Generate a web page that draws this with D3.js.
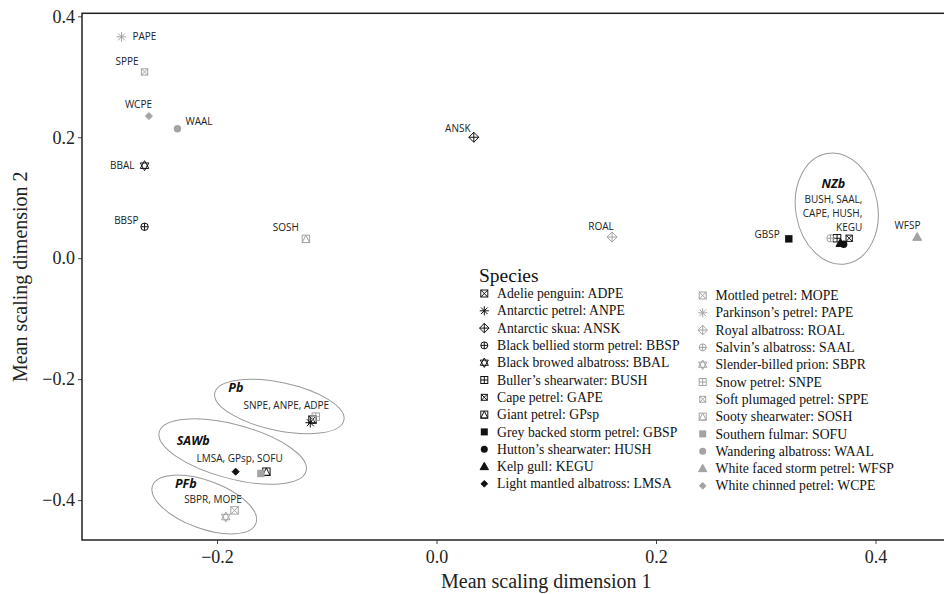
<!DOCTYPE html>
<html lang="en">
<head>
  <meta charset="UTF-8">
  <title>Mean scaling of seabird species</title>
  <script src="https://d3js.org/d3.v7.min.js"></script>
  <style>
    body { margin: 0; background: #fff; }
    svg { display: block; }
    .tick text { font-family: "Liberation Serif", serif; font-size: 18px; fill: #222; }
    .tick line { stroke: #444; }
    .axis-title { font-family: "Liberation Serif", serif; font-size: 20px; fill: #222; }
    .pt-label { font-family: "Open Sans", sans-serif; font-size: 10px; fill: #222; }
    .grp-name { font-family: "Open Sans", sans-serif; font-size: 12.5px; font-weight: bold; font-style: italic; fill: #111; }
    .grp-members { font-family: "Open Sans", sans-serif; font-size: 10px; fill: #222; }
    .legend-title { font-family: "Liberation Serif", serif; font-size: 19.5px; fill: #111; }
    .legend-text { font-family: "Liberation Serif", serif; font-size: 13.7px; fill: #111; }
  </style>
</head>
<body>
  <svg width="944" height="594"></svg>
  <script>
    // species, in legend order
    const codes = ["ADPE","ANPE","ANSK","BBSP","BBAL","BUSH","CAPE","GPsp","GBSP","HUSH","KEGU","LMSA",
                   "MOPE","PAPE","ROAL","SAAL","SBPR","SNPE","SPPE","SOSH","SOFU","WAAL","WFSP","WCPE"];
    const legendLabels = [
      "Adelie penguin: ADPE", "Antarctic petrel: ANPE", "Antarctic skua: ANSK",
      "Black bellied storm petrel: BBSP", "Black browed albatross: BBAL", "Buller\u2019s shearwater: BUSH",
      "Cape petrel: GAPE", "Giant petrel: GPsp", "Grey backed storm petrel: GBSP",
      "Hutton\u2019s shearwater: HUSH", "Kelp gull: KEGU", "Light mantled albatross: LMSA",
      "Mottled petrel: MOPE", "Parkinson\u2019s petrel: PAPE", "Royal albatross: ROAL",
      "Salvin\u2019s albatross: SAAL", "Slender-billed prion: SBPR", "Snow petrel: SNPE",
      "Soft plumaged petrel: SPPE", "Sooty shearwater: SOSH", "Southern fulmar: SOFU",
      "Wandering albatross: WAAL", "White faced storm petrel: WFSP", "White chinned petrel: WCPE"
    ];
    const dim1 = [-0.113,-0.115, 0.034,-0.266,-0.266, 0.365, 0.376,-0.155, 0.321, 0.371, 0.368,-0.183,
                  -0.184,-0.287, 0.160, 0.359,-0.192,-0.110,-0.266,-0.119,-0.160,-0.236, 0.438,-0.262];
    const dim2 = [-0.267,-0.272, 0.200, 0.052, 0.153, 0.033, 0.033,-0.353, 0.032, 0.023, 0.025,-0.353,
                  -0.417, 0.366, 0.035, 0.033,-0.428,-0.262, 0.308, 0.032,-0.356, 0.214, 0.035, 0.235];

    // groups drawn as ellipses
    const groupNames = ["NZb", "Pb", "SAWb", "PFb"];
    const groupMembers = [["BUSH, SAAL,", "CAPE, HUSH,", "KEGU"], ["SNPE, ANPE, ADPE"], ["LMSA, GPsp, SOFU"], ["SBPR, MOPE"]];
    const groupCenter1 = [0.3647, -0.1432, -0.1857, -0.2116];
    const groupCenter2 = [0.082, -0.2453, -0.3197, -0.4073];

    const xTicks = [-0.2, 0.0, 0.2, 0.4];
    const yTicks = [-0.4, -0.2, 0.0, 0.2, 0.4];

    // layout bits (not data)
    const shapeOf = [7,8,9,10,11,12,13,14,15,16,17,18, 7,8,9,10,11,12,13,14,15,16,17,18];
    const labelPlace = {
      PAPE: [11, 3, "start"], SPPE: [-17.5, -7, "middle"], WCPE: [-10.5, -8, "middle"],
      WAAL: [8, -3.7, "start"], BBAL: [-10, 3.3, "end"], BBSP: [-6, -2.5, "end"],
      SOSH: [-7, -7.7, "end"], ANSK: [-16, -5.5, "middle"], ROAL: [-11, -7.5, "middle"],
      GBSP: [-9, -0.5, "end"], WFSP: [-9.7, -8, "middle"]
    };
    const ellipseShape = [[41, 56, -10], [66, 24, 12], [76, 27, 15], [55, 24, 20]];
    const groupTextPos = [
      {name: [-3.4, -20.7, "middle"], lines: [[25.5, -5.2], [25.5, 8.8], [25.5, 22.3]], anchor: "end"},
      {name: [-51, -14.2, "start"], lines: [[7, 2.8]], anchor: "middle"},
      {name: [-56, -6.7, "start"], lines: [[7, 10.1]], anchor: "middle"},
      {name: [-29.3, -16.2, "start"], lines: [[8.7, -1.2]], anchor: "middle"}
    ];

    const svg = d3.select("svg"),
          margin = {top: 13.3, left: 82},
          width = 928.5,
          height = 526.7;

    const x = d3.scaleLinear().domain([-0.323, 0.523]).range([0, width]);
    const y = d3.scaleLinear().domain([-0.466, 0.405]).range([height, 0]);

    const g = svg.append("g").attr("transform", `translate(${margin.left},${margin.top})`);

    const fmt = d3.format(".1f");
    g.append("g")
      .attr("transform", `translate(0,${height})`)
      .call(d3.axisBottom(x).tickValues(xTicks).tickSize(4).tickPadding(6).tickFormat(fmt))
      .call(a => a.select(".domain").remove());
    g.append("g")
      .call(d3.axisLeft(y).tickValues(yTicks).tickSize(4).tickPadding(3).tickFormat(fmt))
      .call(a => a.select(".domain").remove());

    g.append("rect")
      .attr("width", width).attr("height", height)
      .attr("fill", "none").attr("stroke", "#222").attr("stroke-width", 1.5);

    svg.append("text").attr("class", "axis-title")
      .attr("x", margin.left + width / 2).attr("y", 588)
      .attr("text-anchor", "middle").text("Mean scaling dimension 1");
    svg.append("text").attr("class", "axis-title")
      .attr("transform", `translate(27,${margin.top + height / 2}) rotate(-90)`)
      .attr("text-anchor", "middle").text("Mean scaling dimension 2");

    // R-like plotting symbols
    function drawSymbol(sel, pch, color, s) {
      const line = (x1, y1, x2, y2) => sel.append("line")
        .attr("x1", x1).attr("y1", y1).attr("x2", x2).attr("y2", y2)
        .attr("stroke", color).attr("stroke-width", 1);
      const poly = (pts, fill) => sel.append("polygon")
        .attr("points", pts.map(p => p.join(",")).join(" "))
        .attr("fill", fill ? color : "none").attr("stroke", color).attr("stroke-width", 1);
      if (pch === 7 || pch === 12 || pch === 14 || pch === 13) {
        const q = pch === 13 ? s * 0.85 : s;
        sel.append("rect").attr("x", -q).attr("y", -q).attr("width", 2 * q).attr("height", 2 * q)
          .attr("fill", "none").attr("stroke", color);
        if (pch === 7 || pch === 13) { line(-q, -q, q, q); line(-q, q, q, -q); }
        if (pch === 12) { line(0, -s, 0, s); line(-s, 0, s, 0); }
        if (pch === 14) { poly([[0, -s], [s, s], [-s, s]], false); }
      } else if (pch === 8) {
        const r = s * 1.3, d = r * 0.72;
        line(-r, 0, r, 0); line(0, -r, 0, r); line(-d, -d, d, d); line(-d, d, d, -d);
      } else if (pch === 9) {
        const r = s * 1.35;
        poly([[0, -r], [r, 0], [0, r], [-r, 0]], false);
        line(0, -r, 0, r); line(-r, 0, r, 0);
      } else if (pch === 10) {
        sel.append("circle").attr("r", s).attr("fill", "none").attr("stroke", color);
        line(0, -s, 0, s); line(-s, 0, s, 0);
      } else if (pch === 11) {
        const h = s * 1.35, w = s * 1.15;
        poly([[0, -h], [w, h * 0.55], [-w, h * 0.55]], false);
        poly([[0, h], [w, -h * 0.55], [-w, -h * 0.55]], false);
      } else if (pch === 15) {
        sel.append("rect").attr("x", -s).attr("y", -s).attr("width", 2 * s).attr("height", 2 * s).attr("fill", color);
      } else if (pch === 16) {
        sel.append("circle").attr("r", s).attr("fill", color);
      } else if (pch === 17) {
        const r = s * 1.2;
        poly([[0, -r], [r, r * 0.75], [-r, r * 0.75]], true);
      } else if (pch === 18) {
        const r = s * 0.95;
        poly([[0, -r], [r, 0], [0, r], [-r, 0]], true);
      }
    }
    const colorOf = i => i < 12 ? "#111" : "#a3a3a3";

    // group ellipses
    groupNames.forEach((name, i) => {
      const cx = x(groupCenter1[i]), cy = y(groupCenter2[i]);
      const [rx, ry, rot] = ellipseShape[i];
      const eg = g.append("g").attr("transform", `translate(${cx},${cy})`);
      eg.append("ellipse").attr("rx", rx).attr("ry", ry)
        .attr("transform", `rotate(${rot})`)
        .attr("fill", "none").attr("stroke", "#999").attr("stroke-width", 1);
      const tp = groupTextPos[i];
      eg.append("text").attr("class", "grp-name")
        .attr("x", tp.name[0]).attr("y", tp.name[1]).attr("text-anchor", tp.name[2]).text(name);
      groupMembers[i].forEach((t, j) => {
        eg.append("text").attr("class", "grp-members")
          .attr("x", tp.lines[j][0]).attr("y", tp.lines[j][1])
          .attr("text-anchor", tp.anchor).text(t);
      });
    });

    // points
    const data = codes.map((c, i) => ({code: c, d1: dim1[i], d2: dim2[i], i}));
    g.selectAll(".pt")
      .data(data)
      .enter()
      .append("g")
      .attr("class", "pt")
      .attr("transform", d => `translate(${x(d.d1)},${y(d.d2)})`)
      .each(function(d) { drawSymbol(d3.select(this), shapeOf[d.i], colorOf(d.i), 3.7); });

    g.selectAll(".pt-label")
      .data(data.filter(d => labelPlace[d.code]))
      .enter()
      .append("text")
      .attr("class", "pt-label")
      .attr("x", d => x(d.d1) + labelPlace[d.code][0])
      .attr("y", d => y(d.d2) + labelPlace[d.code][1])
      .attr("text-anchor", d => labelPlace[d.code][2])
      .text(d => d.code);

    // legend
    const legend = svg.append("g");
    legend.append("text").attr("class", "legend-title").attr("x", 479).attr("y", 282).text("Species");
    legendLabels.forEach((lab, i) => {
      const col = i < 12 ? 0 : 1, row = i % 12;
      const ix = col === 0 ? 484.3 : 702.7;
      const iy = (col === 0 ? 293.5 : 295.5) + row * 17.3;
      const item = legend.append("g").attr("transform", `translate(${ix},${iy})`);
      drawSymbol(item, shapeOf[i], colorOf(i), 3.5);
      item.append("text").attr("class", "legend-text").attr("x", 12.8).attr("y", 4.6).text(lab);
    });
  </script>
</body>
</html>
